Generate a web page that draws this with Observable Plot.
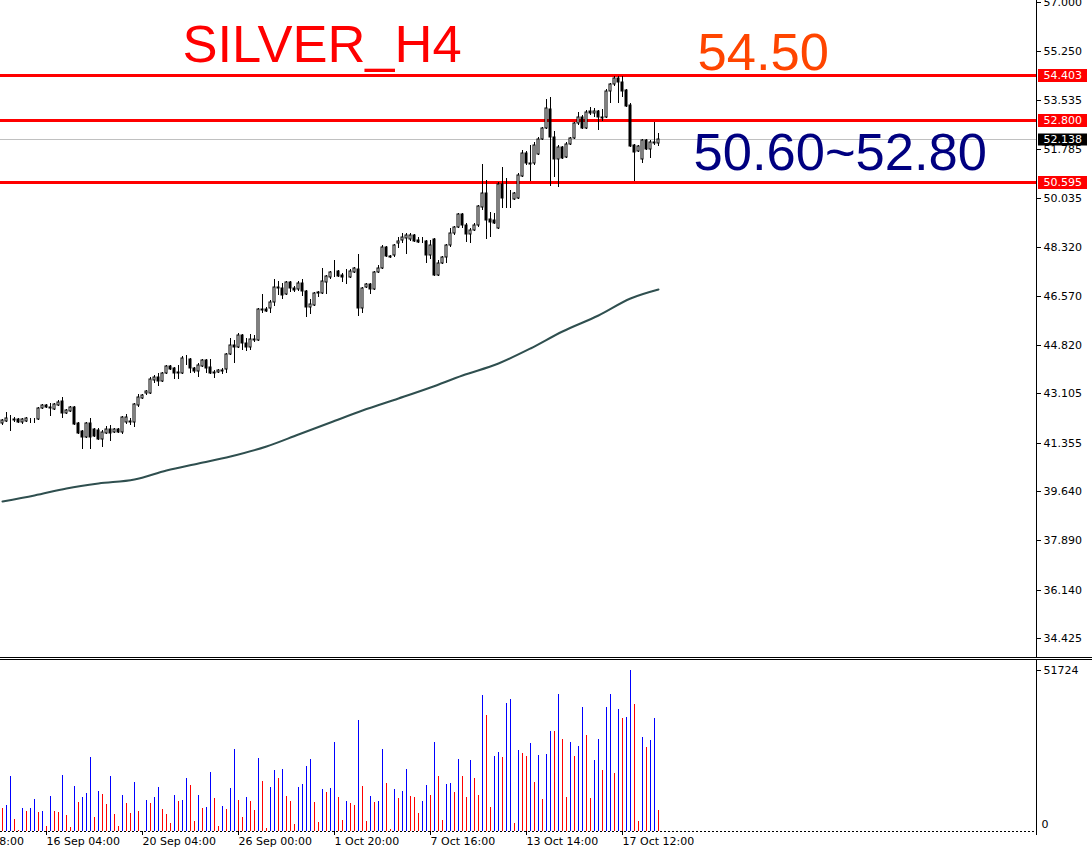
<!DOCTYPE html>
<html>
<head>
<meta charset="utf-8">
<script src="https://cdn.jsdelivr.net/npm/d3@7"></script>
<script src="https://cdn.jsdelivr.net/npm/@observablehq/plot@0.6"></script>
<style>
  html, body { margin: 0; padding: 0; background: #fff; }
  #chart { width: 1092px; height: 848px; overflow: hidden; background: #fff; }
  #chart svg { display: block; }
  .sep { width: 1092px; height: 1px; border-top: 1px solid #000; border-bottom: 1px solid #000; }
</style>
</head>
<body>
<div id="chart"></div>
<script>
// ---------- DATA ----------
const openP = [
42.05,42.13,42.21,42.16,42.20,42.09,42.13,42.21,42.20,42.20,
42.59,42.69,42.62,42.55,42.69,42.84,42.41,42.48,42.62,42.05,
41.77,41.56,42.05,41.84,41.81,41.49,41.70,41.84,41.73,41.84,
41.73,42.09,42.13,42.09,42.69,42.94,43.12,43.12,43.58,43.69,
43.55,43.83,44.08,44.01,43.85,43.83,44.33,44.33,44.01,43.90,
44.08,44.29,44.04,43.86,43.86,43.90,43.97,44.50,44.82,44.75,
45.18,44.89,44.75,45.00,45.00,46.10,46.10,46.14,46.35,46.85,
46.85,46.63,47.06,46.85,46.81,47.03,46.74,46.17,46.24,46.67,
46.67,47.06,47.24,47.41,47.45,47.31,47.24,47.24,47.41,47.52,
46.14,46.88,46.99,46.81,47.41,47.56,48.30,47.98,48.02,48.44,
48.55,48.62,48.59,48.73,48.55,48.52,48.52,48.02,48.59,47.31,
47.73,47.95,48.37,48.80,49.01,49.47,49.08,48.76,48.91,49.08,
49.72,50.22,49.30,49.26,48.98,50.54,50.04,50.03,50.01,50.04,
50.82,51.64,51.29,51.29,51.60,52.14,52.53,53.20,52.21,51.43,
51.85,51.50,51.96,52.17,52.70,52.92,52.53,53.13,53.06,53.13,
52.88,52.92,53.84,54.09,54.30,54.16,53.88,53.34,51.92,51.71,
51.43,52.10,51.78,52.03,51.99];
const highP = [
42.20,42.45,42.34,42.27,42.23,42.23,42.27,42.23,42.23,42.62,
42.73,42.73,42.77,42.77,42.87,42.98,42.55,42.66,42.66,42.09,
41.81,42.09,42.23,41.88,41.88,41.81,41.95,41.98,41.88,41.88,
42.30,42.37,42.23,42.77,43.09,43.09,43.23,43.69,43.76,43.83,
43.86,44.11,44.11,44.04,44.11,44.43,44.47,44.36,44.04,44.19,
44.33,44.33,44.33,43.94,43.97,44.01,44.54,45.07,45.00,45.25,
45.21,45.07,45.21,45.18,46.14,46.63,46.17,46.42,47.17,47.10,
47.03,47.10,47.10,46.92,47.10,47.17,46.78,46.46,46.70,46.74,
47.56,47.31,47.45,47.84,47.49,47.38,47.52,47.52,47.59,48.05,
46.88,47.03,47.03,47.45,47.66,48.37,48.34,48.02,48.41,48.66,
48.80,48.80,48.80,48.76,48.66,48.66,48.55,48.55,48.62,47.84,
47.98,48.41,48.98,49.05,49.51,49.51,49.15,48.98,49.15,49.79,
51.25,50.68,49.55,49.51,50.61,51.14,50.75,50.33,50.26,50.93,
51.75,51.71,51.92,52.03,52.21,52.56,53.56,53.63,52.42,51.92,
51.89,52.03,52.21,52.74,53.10,52.99,53.17,53.27,53.24,53.17,
53.20,53.91,54.12,54.37,54.37,54.37,53.91,53.41,51.96,51.92,
52.14,52.14,52.10,52.74,52.35];
const lowP = [
41.98,42.09,41.77,42.09,42.05,42.02,42.09,42.05,42.05,42.16,
42.55,42.59,42.30,42.52,42.66,42.23,42.37,42.45,41.98,41.66,
41.13,41.52,41.13,41.56,41.45,41.20,41.66,41.42,41.70,41.70,
41.66,42.02,41.98,41.91,42.62,42.91,43.05,43.09,43.48,43.37,
43.51,43.79,43.94,43.62,43.62,43.79,44.11,43.83,43.83,43.69,
44.04,43.83,43.79,43.65,43.83,43.79,43.83,44.47,44.19,44.72,
44.65,44.61,44.65,44.93,44.97,45.96,45.99,45.96,46.21,46.60,
46.46,46.60,46.70,46.70,46.74,46.56,45.82,45.92,46.21,46.53,
46.63,46.63,47.17,47.24,47.24,47.06,46.99,47.20,47.38,45.85,
45.96,46.85,46.63,46.78,47.38,47.52,47.95,47.91,47.95,48.27,
48.44,48.05,48.52,48.48,48.44,48.44,47.73,47.88,47.27,47.27,
47.70,47.73,48.30,48.73,48.98,48.98,48.48,48.44,48.87,49.01,
49.62,48.59,48.66,49.12,48.94,49.69,49.69,49.69,49.97,50.01,
50.79,51.21,50.65,51.21,51.57,52.10,52.49,50.47,50.79,50.43,
51.43,51.46,51.92,52.14,52.63,52.49,52.49,52.99,52.92,52.46,
52.78,52.88,53.41,54.02,53.41,53.63,53.27,51.85,50.65,51.67,
51.29,51.75,51.46,51.92,51.89];
const closeP = [
42.16,42.23,42.20,42.20,42.09,42.20,42.23,42.20,42.21,42.59,
42.69,42.62,42.60,42.73,42.80,42.41,42.52,42.62,42.02,41.70,
41.56,42.05,41.56,41.59,41.49,41.73,41.84,41.70,41.84,41.73,
42.27,42.27,42.09,42.73,42.98,43.05,43.19,43.62,43.69,43.55,
43.83,44.08,43.97,43.83,43.83,44.36,44.34,44.01,43.90,44.11,
44.29,44.01,43.83,43.83,43.94,43.95,44.50,44.82,44.75,45.18,
44.89,44.75,45.04,45.04,46.10,46.08,46.03,46.35,46.88,46.88,
46.60,47.06,46.85,46.78,47.03,46.74,46.17,46.28,46.67,46.70,
47.10,47.27,47.41,47.43,47.27,47.24,47.22,47.45,47.56,46.14,
46.85,46.99,46.81,47.41,47.56,48.30,47.98,47.95,48.37,48.52,
48.66,48.73,48.73,48.52,48.48,48.50,48.02,48.37,47.31,47.73,
47.95,48.37,48.80,49.01,49.47,49.08,48.76,48.91,49.08,49.76,
50.22,49.26,49.19,49.15,50.54,50.04,50.03,50.04,50.22,50.86,
51.64,51.29,51.25,51.92,52.14,52.53,53.24,52.21,51.43,51.85,
51.46,51.96,52.17,52.70,52.92,52.53,53.10,53.06,53.13,52.92,
52.92,53.84,54.09,54.30,54.16,53.84,53.31,51.89,51.67,51.89,
52.10,51.78,52.03,52.01,52.14];
const volumes = [
7481,8443,17740,3847,321,7481,6519,7481,10366,6198,
6305,1710,11328,6519,6198,18061,5237,1389,14534,9405,
11008,12290,23832,4595,12931,11969,8763,17740,5557,1710,
11649,9084,5878,15817,6519,107,10046,9084,11008,14214,
7160,5557,2672,11649,9725,10046,17099,14855,3313,11649,
7481,7802,19023,10687,1710,8122,7160,13893,26397,10046,
4595,11008,9725,6840,23511,16137,1069,14214,19664,17099,
19985,11328,9725,2351,14214,15176,20947,23191,9405,2992,
13572,12611,13893,28641,11008,3634,9725,9084,8443,35695,
14534,3313,11328,9405,9725,26397,15496,748,13572,10687,
12931,19985,11328,11008,5878,9725,14855,11649,28641,17740,
3634,15176,15496,12611,23191,17740,11008,22870,17099,11649,
43710,37298,7802,24153,25435,23832,41145,42427,2672,26076,
25114,24153,28321,15817,24473,10366,24794,32168,32061,44030,
29603,11008,28641,24153,27359,39863,30885,10687,22870,29603,
19664,39863,44030,18702,39221,36336,36656,51724,40824,3313,
30244,27038,29282,36336,6840];
// moving average, read at sampled bars
const maIdx = [0,8,16,24,33,41,49,57,66,74,82,90,99,107,115,124,132,140,149,157,164];
const maVal = [39.30,39.50,39.73,39.91,40.07,40.39,40.64,40.88,41.24,41.68,42.10,42.52,42.94,43.32,43.76,44.20,44.71,45.32,45.90,46.48,46.81];
const priceTicks = [57.000,55.250,53.535,51.785,50.035,48.320,46.570,44.820,43.105,41.355,39.640,37.890,36.140,34.425];
const levels = [54.403, 52.800, 50.595];
const bidPrice = 52.138;
const volMax = 51724;
const timeIdx = [-13, 11, 35, 59, 83, 107, 131, 155];
const timeLabels = ["12 Sep 08:00","16 Sep 04:00","20 Sep 04:00","26 Sep 00:00","1 Oct 20:00","7 Oct 16:00","13 Oct 14:00","17 Oct 12:00"];
const titleText = "SILVER_H4";
const targetText = "54.50";
const rangeText = "50.60~52.80";

// ---------- BUILD ----------
const bars = openP.map((o, i) => ({i, o, h: highP[i], l: lowP[i], c: closeP[i]}));
const upBars = bars.filter(d => d.c >= d.o);
const dnBars = bars.filter(d => d.c < d.o);
const ma = maIdx.map((i, k) => ({i, v: maVal[k]}));
const vols = volumes.map((v, i) => ({i, v, up: i > 0 && v > volumes[i - 1]}));

const W = 1092, RIGHT = 56;
// bar i is centred at 2 + 4*i px (Plot adds its own half-pixel offset)
const xOf = px => (px - 2) / 4;
const xDomain = [xOf(0), xOf(W - RIGHT)];
const pxPerUnit = 1 / 0.0355;
const priceH = 657;
const yTop = 57.071;
const fmt3 = d3.format(".3f");
const axisFont = "DejaVu Sans, Verdana, sans-serif";
const bigFont = "Liberation Sans, Arial, sans-serif";
const bigSize = 52.5;

const boxX1 = xOf(W - RIGHT + 2), boxX2 = xOf(1087);
const axisLineX = xOf(W - RIGHT);

const price = Plot.plot({
  width: W, height: priceH,
  marginTop: 0, marginBottom: 0, marginLeft: 0, marginRight: RIGHT,
  x: {domain: xDomain, axis: null, round: true},
  y: {domain: [yTop - priceH / pxPerUnit, yTop], axis: null, round: true},
  style: {background: "#fff", fontFamily: axisFont, fontSize: "11px", color: "#000"},
  marks: [
    Plot.ruleY([bidPrice], {stroke: "#c0c0c0", strokeWidth: 1}),
    Plot.ruleY(levels, {stroke: "#ff0000", strokeWidth: 3}),
    Plot.line(ma, {x: "i", y: "v", stroke: "#2f4f4f", strokeWidth: 2, curve: "monotone-x"}),
    Plot.ruleX(bars, {x: "i", y1: "l", y2: "h", stroke: "#000", strokeWidth: 1}),
    Plot.rect(upBars, {x1: d => d.i - 0.25, x2: d => d.i + 0.25, y1: "o", y2: "c", fill: "#fff", stroke: "#000", strokeWidth: 1}),
    Plot.rect(dnBars, {x1: d => d.i - 0.25, x2: d => d.i + 0.25, y1: "o", y2: "c", fill: "#000", stroke: "#000", strokeWidth: 1}),
    Plot.axisY({anchor: "right", ticks: priceTicks, tickFormat: fmt3, tickSize: 4, tickPadding: 3, fontSize: 11, label: null}),
    Plot.ruleX([axisLineX], {stroke: "#000"}),
    Plot.ruleY(levels, {x1: boxX1, x2: boxX2, stroke: "#ff0000", strokeWidth: 13}),
    Plot.text(levels, {y: d => d, text: d => fmt3(d), frameAnchor: "right", dx: 7, textAnchor: "start", fill: "#fff", fontSize: 11}),
    Plot.ruleY([bidPrice], {x1: boxX1, x2: boxX2, stroke: "#000", strokeWidth: 12}),
    Plot.text([bidPrice], {y: d => d, text: d => fmt3(d), frameAnchor: "right", dx: 7, textAnchor: "start", fill: "#fff", fontSize: 11}),
    Plot.text([titleText], {frameAnchor: "top-left", dx: 182, dy: 24, lineAnchor: "top", textAnchor: "start", fill: "#ff0000", fontSize: bigSize, fontFamily: bigFont}),
    Plot.text([targetText], {frameAnchor: "top-left", dx: 697, dy: 32, lineAnchor: "top", textAnchor: "start", fill: "#ff4500", fontSize: bigSize, fontFamily: bigFont}),
    Plot.text([rangeText], {frameAnchor: "top-left", dx: 693, dy: 132, lineAnchor: "top", textAnchor: "start", fill: "#000080", fontSize: bigSize, fontFamily: bigFont})
  ]
});

const volH = 188, volTop = 10, volBottom = 17;
const volume = Plot.plot({
  width: W, height: volH,
  marginTop: volTop, marginBottom: volBottom, marginLeft: 0, marginRight: RIGHT,
  x: {domain: xDomain, axis: null, round: true},
  y: {domain: [0, volMax], axis: null, round: true},
  style: {background: "#fff", fontFamily: axisFont, fontSize: "11px", color: "#000"},
  marks: [
    Plot.ruleY([0], {stroke: "#000", strokeDasharray: "2,2"}),
    Plot.ruleX(vols.filter(d => d.up), {x: "i", y1: 0, y2: "v", stroke: "#0000ff", strokeWidth: 1}),
    Plot.ruleX(vols.filter(d => !d.up), {x: "i", y1: 0, y2: "v", stroke: "#ff0000", strokeWidth: 1}),
    Plot.ruleX([axisLineX], {stroke: "#000", insetTop: -volTop, insetBottom: -4}),
    Plot.axisY({anchor: "right", ticks: [volMax], tickFormat: d => String(d), tickSize: 4, tickPadding: 3, fontSize: 11, label: null}),
    Plot.text([0], {y: d => d, text: d => String(d), frameAnchor: "right", dx: 5, dy: -7, textAnchor: "start", fill: "#000", fontSize: 11}),
    Plot.axisX({anchor: "bottom", ticks: timeIdx, tickFormat: d => timeLabels[timeIdx.indexOf(d)], tickSize: 4, tickPadding: 2, textAnchor: "start", fontSize: 11, label: null})
  ]
});

const root = document.getElementById("chart");
root.appendChild(price);
const sep = document.createElement("div");
sep.className = "sep";
root.appendChild(sep);
root.appendChild(volume);
</script>
</body>
</html>
